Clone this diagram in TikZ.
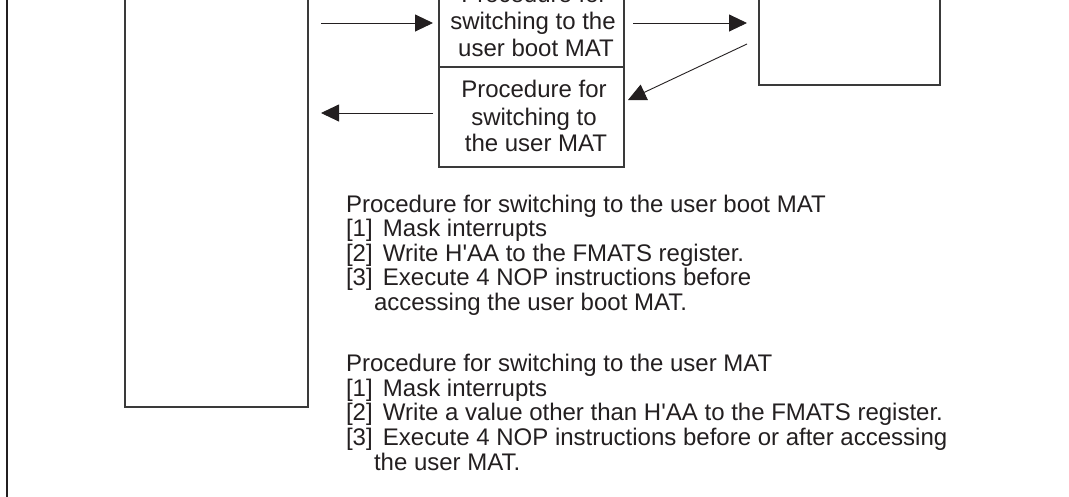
\documentclass[tikz,border=0pt]{standalone}
\usepackage{fontspec}
\setmainfont{Liberation Sans}
\usetikzlibrary{arrows.meta,calc}
\definecolor{ink}{HTML}{231F20}
\definecolor{boxline}{HTML}{3A3A3A}
\tikzset{
  box/.style={draw=boxline, line width=1.1pt, inner sep=0pt, outer sep=0pt, rectangle},
  arr/.style={draw=ink, line width=0.9pt, -{Triangle[length=18pt,width=17pt]}},
  txt/.style={text=ink, inner sep=0pt, outer sep=0pt, font=\fontsize{24}{24}\selectfont},
}
\begin{document}
\begin{tikzpicture}[x=1pt,y=-1pt]
\useasboundingbox (0,0) rectangle (1069,496);
\clip (0,0) rectangle (1069,496);
% frame line
\coordinate (ftop) at (7,-5);
\coordinate (fbot) at (7,500);
\draw[ink, line width=2pt] (ftop) -- (fbot);
% boxes
\node[box, minimum width=183pt, minimum height=437pt] (left) at (216.5,188.5) {};
\node[box, minimum width=185pt, minimum height=97pt] (up) at (531.5,18.5) {};
\node[box, minimum width=185pt, minimum height=100pt] (low) at (531.5,117) {};
\node[box, minimum width=181pt, minimum height=115pt] (right) at (849.5,27.5) {};
% box texts
\node[txt, anchor=base] (u1) at (534,2) {Procedure for};
\node[txt, anchor=base] (u2) at (533,29.3) {switching to the};
\node[txt, anchor=base] (u3) at (536,56.7) {user boot MAT};
\node[txt, anchor=base] (l1) at (534,97.7) {Procedure for};
\node[txt, anchor=base] (l2) at (534,125) {switching to};
\node[txt, anchor=base] (l3) at (536,151.7) {the user MAT};
% helper rows
\coordinate (r23) at (0,23);
\coordinate (r44) at (0,44);
\coordinate (r100) at (0,100);
\coordinate (r113) at (0,113);
% connectors
\draw[arr] ([xshift=13pt]left.east |- r23) -- ([xshift=-6pt]up.west |- r23);
\draw[arr] ([xshift=9pt]up.east |- r23) -- ([xshift=-12pt]right.west |- r23);
\draw[arr] ([xshift=-12pt]right.west |- r44) -- ([xshift=4pt]low.east |- r100);
\draw[arr] ([xshift=-6pt]low.west |- r113) -- ([xshift=13pt]left.east |- r113);
% notes
\node[txt, anchor=base west] (a0) at (346,212) {Procedure for switching to the user boot MAT};
\node[txt, anchor=base west] (a1) at (346,236.5) {\makebox[37pt][l]{[1]}Mask interrupts};
\node[txt, anchor=base west] (a2) at (346,261) {\makebox[37pt][l]{[2]}Write H\textquotesingle AA to the FMATS register.};
\node[txt, anchor=base west] (a3) at (346,285.5) {\makebox[37pt][l]{[3]}Execute 4 NOP instructions before};
\node[txt, anchor=base west] (a4) at (374,310) {accessing the user boot MAT.};
\node[txt, anchor=base west] (b0) at (346,371) {Procedure for switching to the user MAT};
\node[txt, anchor=base west] (b1) at (346,396) {\makebox[37pt][l]{[1]}Mask interrupts};
\node[txt, anchor=base west] (b2) at (346,420) {\makebox[37pt][l]{[2]}Write a value other than H\textquotesingle AA to the FMATS register.};
\node[txt, anchor=base west] (b3) at (346,445) {\makebox[37pt][l]{[3]}Execute 4 NOP instructions before or after accessing};
\node[txt, anchor=base west] (b4) at (374,470) {the user MAT.};
\end{tikzpicture}
\end{document}
